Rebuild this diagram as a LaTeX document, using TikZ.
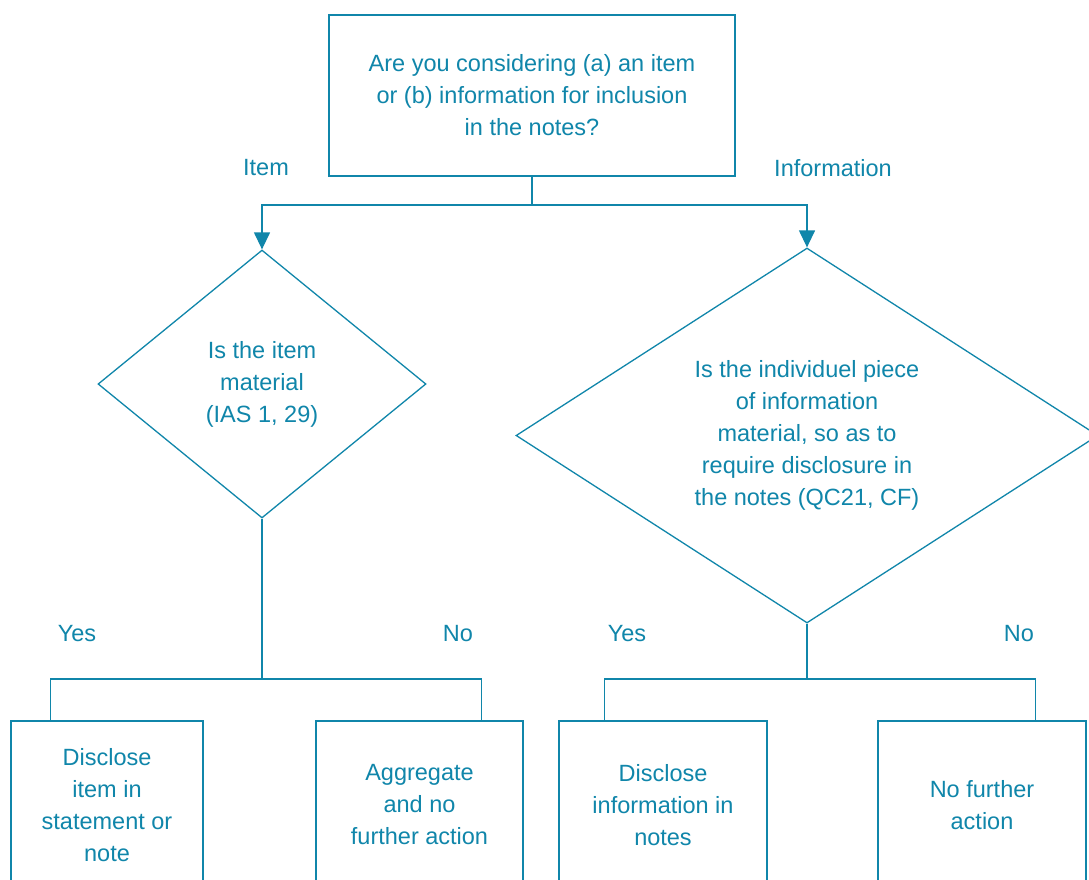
\documentclass[tikz,border=0pt]{standalone}
\usepackage{fontspec}
\setmainfont{Liberation Sans}
\usetikzlibrary{shapes.geometric,arrows.meta,calc}
\definecolor{teal}{RGB}{16,134,170}
\begin{document}
\begin{tikzpicture}[x=1pt,y=-1pt,
  every node/.style={text=teal,font=\fontsize{23.5}{32}\selectfont},
  conn/.style={draw=teal,line width=1.3pt},
  arr/.style={conn,-{Triangle[length=17pt,width=16pt]}},
  boxnode/.style={draw=teal,line width=1.3pt,rectangle,inner sep=0pt,align=center,anchor=center},
  dia/.style={draw=teal,line width=1.3pt,diamond,inner sep=0pt,align=center},
  lbl/.style={inner sep=0pt}]
\useasboundingbox (0,0) rectangle (1089,879);
\clip (0,0) rectangle (1089,879);
\fill[white] (0,0) rectangle (1089,879);
% top box
\node[boxnode,minimum width=406pt,minimum height=161pt] (top) at (532,95.5)
  {Are you considering (a) an item\\or (b) information for inclusion\\in the notes?};
% diamonds
\node[dia,minimum width=328pt,minimum height=268pt,aspect=1.2] (d1) at (262,384)
  {Is the item\\material\\(IAS 1, 29)};
\node[dia,minimum width=582pt,minimum height=375pt,aspect=1.55] (d2) at (807,435.5)
  {Is the individuel piece\\of information\\material, so as to\\require disclosure in\\the notes (QC21, CF)};
% bottom boxes
\node[boxnode,minimum width=192pt,minimum height=168pt] (b1) at (107,805)
  {Disclose\\item in\\statement or\\note};
\node[boxnode,minimum width=207pt,minimum height=168pt] (b2) at (419.5,805)
  {Aggregate\\and no\\further action};
\node[boxnode,minimum width=208pt,minimum height=168pt] (b3) at (663,805)
  {Disclose\\information in\\notes};
\node[boxnode,minimum width=208pt,minimum height=168pt] (b4) at (982,805)
  {No further\\action};
% labels
\node[lbl] (litem) at (266,168) {Item};
\node[lbl] (linfo) at (833,168) {Information};
\node[lbl] (ly1) at (77,634) {Yes};
\node[lbl] (ln1) at (458,634) {No};
\node[lbl] (ly2) at (627,634) {Yes};
\node[lbl] (ln2) at (1019,634) {No};
% connectors
\coordinate (j0) at (532,205);
\draw[conn] (top.south) -- (j0);
\draw[arr] (j0) -| (d1.north);
\draw[arr] (j0) -| (d2.north);
\coordinate (j1) at (262,679);
\draw[conn] (d1.south) -- (j1);
\draw[conn] (j1) -| ($(b1.north west)+(40,0)$);
\draw[conn] (j1) -| ($(b2.north east)+(-42,0)$);
\coordinate (j2) at (807,679);
\draw[conn] (d2.south) -- (j2);
\draw[conn] (j2) -| ($(b3.north west)+(46,0)$);
\draw[conn] (j2) -| ($(b4.north east)+(-51,0)$);
\end{tikzpicture}
\end{document}
